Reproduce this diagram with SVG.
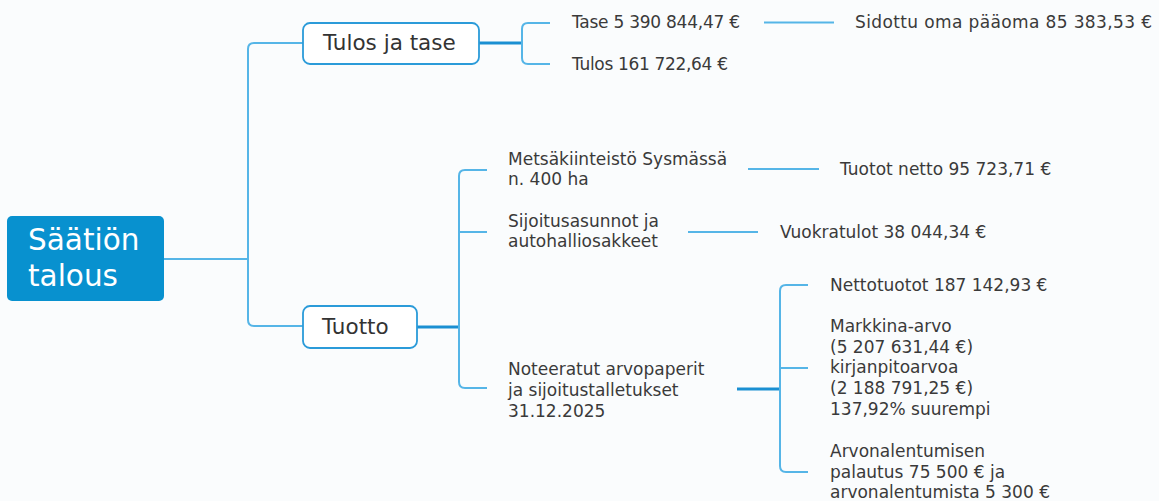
<svg xmlns="http://www.w3.org/2000/svg" width="1159" height="501" viewBox="0 0 1159 501">
<style>
.bg{fill:#fafcfd}
.root{fill:#0891cf}
.box{fill:#ffffff;stroke:#2b9bd9;stroke-width:1.8}
.thin{fill:none;stroke:#55b5e7;stroke-width:2}
.thick{fill:none;stroke:#1a8fd2;stroke-width:3}
.t{font-family:"DejaVu Sans",sans-serif;font-size:17px;fill:#3a3a3a}
.tb{font-family:"DejaVu Sans",sans-serif;font-size:21.5px;fill:#333333}
.tr{font-family:"DejaVu Sans",sans-serif;font-size:29.5px;fill:#ffffff}
</style>
<rect class="bg" x="0" y="0" width="1159" height="501"/>
<g id="connectors">
<path class="thin" d="M164,259 H248"/>
<path class="thin" d="M303,43 H254 Q248,43 248,49 V320 Q248,326 254,326 H303"/>
<path class="thick" d="M479,43 H522"/>
<path class="thin" d="M550,23 H528 Q522,23 522,29 V58 Q522,64 528,64 H550"/>
<path class="thin" d="M764,22.5 H834"/>
<path class="thick" d="M417,327 H459"/>
<path class="thin" d="M487,170 H465 Q459,170 459,176 V382 Q459,388 465,388 H487"/>
<path class="thin" d="M459,232 H487"/>
<path class="thin" d="M748,169 H819"/>
<path class="thin" d="M688,232 H758"/>
<path class="thick" d="M737,389 H780"/>
<path class="thin" d="M808,285 H786 Q780,285 780,291 V466 Q780,472 786,472 H808"/>
<path class="thin" d="M780,368 H808"/>
</g>
<g id="root">
<rect class="root" x="7" y="216" width="157" height="85" rx="5"/>
<text class="tr" x="28" y="250">Säätiön</text>
<text class="tr" x="28" y="286">talous</text>
</g>
<g id="tulos-ja-tase">
<rect class="box" x="303" y="23" width="176" height="41" rx="7"/>
<text class="tb" x="323" y="50">Tulos ja tase</text>
</g>
<g id="tuotto">
<rect class="box" x="303" y="306" width="114" height="42" rx="7"/>
<text class="tb" x="322" y="334">Tuotto</text>
</g>
<g id="tase"><text class="t" x="572" y="28" textLength="168">Tase 5 390 844,47 €</text></g>
<g id="tulos"><text class="t" x="572" y="70" textLength="156">Tulos 161 722,64 €</text></g>
<g id="sidottu"><text class="t" x="855" y="28" textLength="297">Sidottu oma pääoma 85 383,53 €</text></g>
<g id="metsa">
<text class="t" x="508" y="165">Metsäkiinteistö Sysmässä</text>
<text class="t" x="508" y="185">n. 400 ha</text>
</g>
<g id="sijoitusasunnot">
<text class="t" x="508" y="227">Sijoitusasunnot ja</text>
<text class="t" x="508" y="247">autohalliosakkeet</text>
</g>
<g id="tuotot-netto"><text class="t" x="840" y="175">Tuotot netto 95 723,71 €</text></g>
<g id="vuokratulot"><text class="t" x="780" y="238">Vuokratulot 38 044,34 €</text></g>
<g id="noteeratut">
<text class="t" x="508" y="375">Noteeratut arvopaperit</text>
<text class="t" x="508" y="396">ja sijoitustalletukset</text>
<text class="t" x="508" y="417">31.12.2025</text>
</g>
<g id="nettotuotot"><text class="t" x="830" y="291">Nettotuotot 187 142,93 €</text></g>
<g id="markkina-arvo">
<text class="t" x="830" y="332">Markkina-arvo</text>
<text class="t" x="830" y="353">(5 207 631,44 €)</text>
<text class="t" x="830" y="373">kirjanpitoarvoa</text>
<text class="t" x="830" y="394">(2 188 791,25 €)</text>
<text class="t" x="830" y="415">137,92% suurempi</text>
</g>
<g id="arvonalentumisen">
<text class="t" x="830" y="457">Arvonalentumisen</text>
<text class="t" x="830" y="478">palautus 75 500 € ja</text>
<text class="t" x="830" y="498">arvonalentumista 5 300 €</text>
</g>
</svg>
